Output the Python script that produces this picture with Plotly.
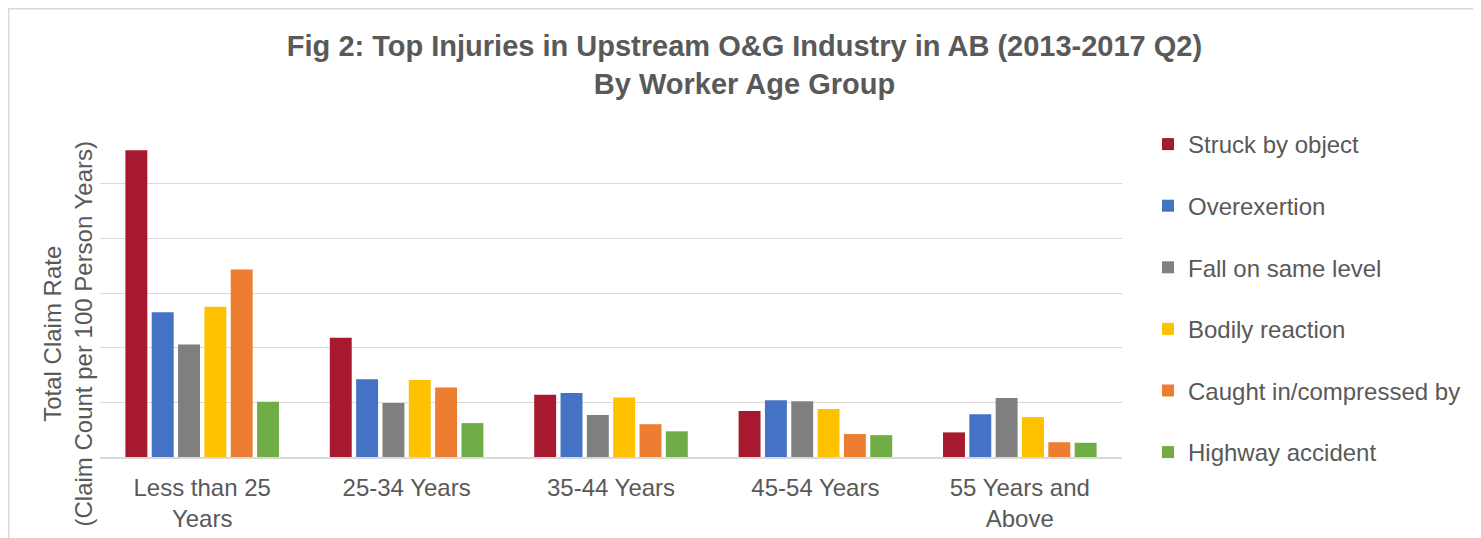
import plotly.graph_objects as go

categories = ["Less than 25<br>Years", "25-34 Years", "35-44 Years", "45-54 Years", "55 Years and<br>Above"]
series_names = ["Struck by object", "Overexertion", "Fall on same level",
                "Bodily reaction", "Caught in/compressed by", "Highway accident"]
struck_by_object = [5.61, 2.18, 1.14, 0.84, 0.45]
overexertion = [2.65, 1.42, 1.17, 1.04, 0.78]
fall_on_same_level = [2.06, 0.99, 0.77, 1.02, 1.08]
bodily_reaction = [2.75, 1.41, 1.09, 0.88, 0.73]
caught_in = [3.43, 1.27, 0.60, 0.42, 0.27]
highway_accident = [1.01, 0.62, 0.47, 0.40, 0.26]
colors = ["#A6192E", "#4472C4", "#7F7F7F", "#FFC000", "#ED7D31", "#70AD47"]
y_title = "Total Claim Rate<br>(Claim Count per 100 Person Years)"

values = [struck_by_object, overexertion, fall_on_same_level,
          bodily_reaction, caught_in, highway_accident]

fig = go.Figure()
for name, vals, col in zip(series_names, values, colors):
    fig.add_trace(go.Bar(x=categories, y=vals, name=name, legendgroup=name,
                         marker=dict(color=col, line=dict(width=0))))

# page body has an 8px margin, so the figure is laid out 8px up/left of screen coords
W, H = 1473, 530
L, R, T, B = 92, 359, 121, 81
pw, ph = W - L - R, H - T - B

fig.update_layout(
    width=W, height=H,
    margin=dict(l=L, r=R, t=T, b=B),
    paper_bgcolor="white", plot_bgcolor="white",
    font=dict(family="Liberation Sans, Arial, sans-serif", color="#595959", size=24),
    title=dict(text="<b>Fig 2: Top Injuries in Upstream O&G Industry in AB (2013-2017 Q2)<br>By Worker Age Group</b>",
               x=0.5, xref="container", xanchor="center",
               y=1 - 48 / H, yref="container", yanchor="middle",
               font=dict(size=29, color="#595959")),
    barmode="group", bargap=0.227, bargroupgap=0.167,
    showlegend=True,
    legend=dict(x=(1140 - L) / pw, xanchor="left", y=(449 - 114) / ph, yanchor="top",
                traceorder="grouped", tracegroupgap=27.4, maxheight=600,
                font=dict(size=24, color="#595959"), bgcolor="rgba(0,0,0,0)"),
    xaxis=dict(showgrid=False, showline=True, linecolor="#D9D9D9", linewidth=1.5,
               ticks="", tickfont=dict(size=24, color="#595959"), ticklabelstandoff=8,
               automargin=False),
    yaxis=dict(range=[0, 6], dtick=1, showgrid=True, gridcolor="#D9D9D9", gridwidth=1,
               showticklabels=False, zeroline=False, showline=False, automargin=False),
    annotations=[dict(text=y_title, textangle=-90, showarrow=False,
                      xref="paper", yref="paper",
                      x=(59.5 - L) / pw, xanchor="center",
                      y=(449 - 326) / ph, yanchor="middle",
                      font=dict(size=24, color="#595959"))],
    shapes=[dict(type="rect", xref="paper", yref="paper",
                 x0=(0.75 - L) / pw, x1=(1471 - L) / pw,
                 y0=(449 - 560) / ph, y1=(449 - 0.75) / ph,
                 line=dict(color="#D9D9D9", width=1.5), fillcolor="rgba(0,0,0,0)", layer="below")],
)

fig.write_html("out.html")
